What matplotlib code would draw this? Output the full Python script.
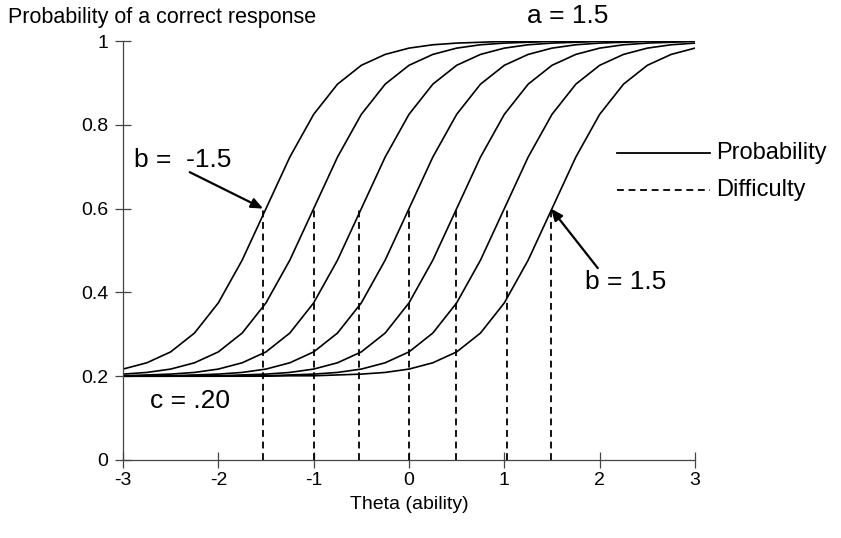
import matplotlib
matplotlib.use("Agg")
import matplotlib.pyplot as plt

plt.rcParams['font.family'] = ['Liberation Sans', 'DejaVu Sans']
plt.rcParams['axes.unicode_minus'] = False

# ability grid and probability curves (a = 1.5, c = .20)
theta = [-3.0, -2.75, -2.5, -2.25, -2.0, -1.75, -1.5, -1.25, -1.0, -0.75, -0.5, -0.25,
         0.0, 0.25, 0.5, 0.75, 1.0, 1.25, 1.5, 1.75, 2.0, 2.25, 2.5, 2.75, 3.0]

p_b_m15 = [0.217, 0.232, 0.258, 0.303, 0.375, 0.477, 0.600, 0.723, 0.825, 0.897, 0.942, 0.968,
           0.983, 0.991, 0.995, 0.997, 0.999, 0.999, 1.000, 1.000, 1.000, 1.000, 1.000, 1.000, 1.000]
p_b_m10 = [0.205, 0.209, 0.217, 0.232, 0.258, 0.303, 0.375, 0.477, 0.600, 0.723, 0.825, 0.897,
           0.942, 0.968, 0.983, 0.991, 0.995, 0.997, 0.999, 0.999, 1.000, 1.000, 1.000, 1.000, 1.000]
p_b_m05 = [0.201, 0.203, 0.205, 0.209, 0.217, 0.232, 0.258, 0.303, 0.375, 0.477, 0.600, 0.723,
           0.825, 0.897, 0.942, 0.968, 0.983, 0.991, 0.995, 0.997, 0.999, 0.999, 1.000, 1.000, 1.000]
p_b_00 = [0.200, 0.201, 0.201, 0.203, 0.205, 0.209, 0.217, 0.232, 0.258, 0.303, 0.375, 0.477,
          0.600, 0.723, 0.825, 0.897, 0.942, 0.968, 0.983, 0.991, 0.995, 0.997, 0.999, 0.999, 1.000]
p_b_05 = [0.200, 0.200, 0.200, 0.201, 0.201, 0.203, 0.205, 0.209, 0.217, 0.232, 0.258, 0.303,
          0.375, 0.477, 0.600, 0.723, 0.825, 0.897, 0.942, 0.968, 0.983, 0.991, 0.995, 0.997, 0.999]
p_b_10 = [0.200, 0.200, 0.200, 0.200, 0.200, 0.201, 0.201, 0.203, 0.205, 0.209, 0.217, 0.232,
          0.258, 0.303, 0.375, 0.477, 0.600, 0.723, 0.825, 0.897, 0.942, 0.968, 0.983, 0.991, 0.995]
p_b_15 = [0.200, 0.200, 0.200, 0.200, 0.200, 0.200, 0.200, 0.201, 0.201, 0.203, 0.205, 0.209,
          0.217, 0.232, 0.258, 0.303, 0.375, 0.477, 0.600, 0.723, 0.825, 0.897, 0.942, 0.968, 0.983]

curves = [p_b_m15, p_b_m10, p_b_m05, p_b_00, p_b_05, p_b_10, p_b_15]

# difficulty markers (dashed verticals up to P = .6)
difficulty_x = [-1.53, -1.0, -0.52, 0.0, 0.49, 1.03, 1.49]
difficulty_top = 0.6

x_ticks = [-3, -2, -1, 0, 1, 2, 3]
x_labels = ['-3', '-2', '-1', '0', '1', '2', '3']
y_ticks = [0, 0.2, 0.4, 0.6, 0.8, 1.0]
y_labels = ['0', '0.2', '0.4', '0.6', '0.8', '1']

fig = plt.figure(figsize=(8.41, 5.38), dpi=100)
ax = fig.add_axes([123 / 841, 78 / 538, 572 / 841, 419 / 538])

for p in curves:
    ax.plot(theta, p, color='black', lw=1.2, solid_joinstyle='miter')

for bx in difficulty_x:
    ax.plot([bx, bx], [0, difficulty_top], color='black', lw=1.3, dashes=(3.8, 2.6))

ax.set_xlim(-3, 3)
ax.set_ylim(0, 1)
ax.set_xticks(x_ticks)
ax.set_xticklabels(x_labels)
ax.set_yticks(y_ticks)
ax.set_yticklabels(y_labels)
ax.tick_params(direction='inout', length=11, width=0.9, labelsize=14, color='#444444')
ax.tick_params(axis='y', pad=5)
ax.tick_params(axis='x', pad=3)
for side in ['top', 'right']:
    ax.spines[side].set_visible(False)
for side in ['left', 'bottom']:
    ax.spines[side].set_color('#444444')
    ax.spines[side].set_linewidth(0.9)

ax.set_xlabel('Theta (ability)', fontsize=14, labelpad=5)
fig.text(8 / 841, 1 - 18 / 538, 'Probability of a correct response', fontsize=15.5, va='center', ha='left')

# annotations
ax.text(1.66, 1.06, 'a = 1.5', fontsize=19, ha='center', va='center', clip_on=False)
ax.text(-2.885, 0.716, 'b =  -1.5', fontsize=19, ha='left', va='center')
ax.text(1.85, 0.425, 'b = 1.5', fontsize=19, ha='left', va='center')
ax.text(-2.72, 0.141, 'c = .20', fontsize=19, ha='left', va='center')

arrow = dict(arrowstyle='-|>,head_length=0.7,head_width=0.3', color='black', lw=1.6,
             shrinkA=0, shrinkB=0)
ax.annotate('', xy=(-1.53, 0.60), xytext=(-2.30, 0.687), arrowprops=arrow)
ax.annotate('', xy=(1.49, 0.60), xytext=(1.98, 0.458), arrowprops=arrow)

# legend drawn by hand, like the original
ax.plot([0.864, 1.026], [0.733, 0.733], transform=ax.transAxes, color='black', lw=1.3, clip_on=False)
ax.text(1.037, 0.733, 'Probability', transform=ax.transAxes, fontsize=17, va='center', ha='left')
ax.plot([0.864, 1.026], [0.644, 0.644], transform=ax.transAxes, color='black', lw=1.3,
        dashes=(3.8, 2.6), clip_on=False)
ax.text(1.037, 0.644, 'Difficulty', transform=ax.transAxes, fontsize=17, va='center', ha='left')

fig.savefig('out.png', dpi=100)
